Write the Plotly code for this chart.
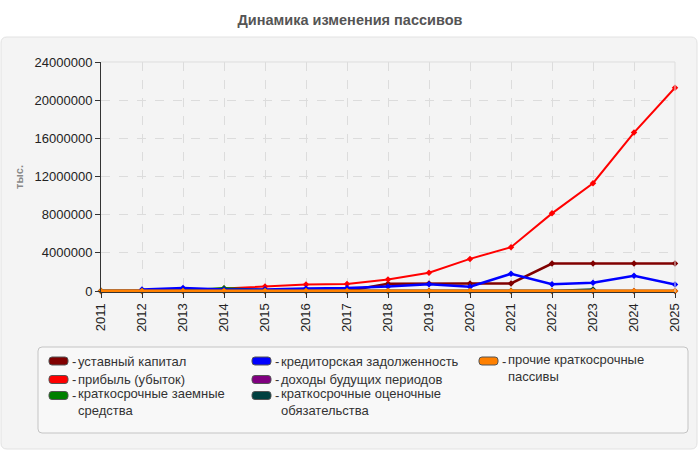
import plotly.graph_objects as go

# years on the x axis
years = list(range(2011, 2026))

# values, тыс. руб.
ustavny_kapital = [10000, 10000, 10000, 10000, 10000, 10000, 10000, 760000, 800000, 800000,
                   800000, 2880000, 2880000, 2880000, 2880000]
pribyl = [0, 30000, 80000, 260000, 480000, 690000, 730000, 1210000, 1920000, 3370000,
          4600000, 8140000, 11300000, 16600000, 21300000]
zaemnye = [0, 0, 20000, 300000, 100000, 0, 0, 0, 0, 0, 0, 0, 0, 0, 0]
kreditorskaya = [None, 170000, 330000, 170000, 170000, 260000, 310000, 480000, 700000, 450000,
                 1810000, 710000, 880000, 1610000, 690000]
dohody = [0, 0, 0, 0, 0, 0, 0, 0, 0, 0, 0, 0, 0, 0, 0]
otsenochnye = [0, 0, 0, 0, 0, 0, 0, 0, 0, 0, 0, 0, 150000, None, None]
prochie = [0, 0, 0, 0, 0, 0, 0, 0, 0, 0, 0, 0, 0, 0, 0]

names = ["уставный капитал", "прибыль (убыток)", "краткосрочные заемные<br>средства",
         "кредиторская задолженность", "доходы будущих периодов",
         "краткосрочные оценочные<br>обязательства", "прочие краткосрочные<br>пассивы"]
values = [ustavny_kapital, pribyl, zaemnye, kreditorskaya, dohody, otsenochnye, prochie]
colors = ["#800000", "#ff0000", "#008000", "#0000ff", "#800080", "#004040", "#ff8000"]
widths = [2.5, 2, 2.5, 2.5, 2.5, 2.5, 3]

W, H = 700, 450
L, R, T, B = 101, 25, 62, 158
pw, ph = W - L - R, H - T - B


def px(x):
    return (x - L) / pw


def py(y):
    return (H - B - y) / ph


def round_rect(x0, y0, x1, y1, r):
    # rounded rectangle path in paper coords, input in pixels
    p = [
        f"M {px(x0 + r)},{py(y0)}", f"L {px(x1 - r)},{py(y0)}", f"Q {px(x1)},{py(y0)} {px(x1)},{py(y0 + r)}",
        f"L {px(x1)},{py(y1 - r)}", f"Q {px(x1)},{py(y1)} {px(x1 - r)},{py(y1)}",
        f"L {px(x0 + r)},{py(y1)}", f"Q {px(x0)},{py(y1)} {px(x0)},{py(y1 - r)}",
        f"L {px(x0)},{py(y0 + r)}", f"Q {px(x0)},{py(y0)} {px(x0 + r)},{py(y0)} Z",
    ]
    return " ".join(p)


fig = go.Figure()
for name, vals, color, w in zip(names, values, colors, widths):
    fig.add_trace(go.Scatter(x=years, y=vals, mode="lines+markers", name=name.replace("<br>", " "),
                             line=dict(color=color, width=w),
                             marker=dict(symbol="diamond", size=5, color=color),
                             cliponaxis=False, showlegend=False))

shapes = [
    dict(type="path", xref="paper", yref="paper", path=round_rect(1, 37, 697, 449, 6),
         fillcolor="#f4f4f4", line=dict(color="#e2e2e2", width=1), layer="below"),
    dict(type="path", xref="paper", yref="paper", path=round_rect(38, 347, 688, 433, 4),
         fillcolor="#f8f8f8", line=dict(color="#c4c4c4", width=1), layer="below"),
    dict(type="line", xref="paper", yref="paper", x0=0, x1=1, y0=1, y1=1,
         line=dict(color="#dddddd", width=1)),
    dict(type="line", xref="paper", yref="paper", x0=1, x1=1, y0=0, y1=1,
         line=dict(color="#dddddd", width=1)),
]
annotations = []

# legend drawn as swatches + text, three columns
col_x = [49, 252, 479]
row_y = [361, 379.5, 395.5]
fs = 13
line_h = 1.3 * fs
slots = [(0, 0), (0, 1), (0, 2), (1, 0), (1, 1), (1, 2), (2, 0)]
lfont = dict(family="Arial, Liberation Sans", size=fs, color="#333")
for name, color, (c, r) in zip(names, colors, slots):
    x0, yc = col_x[c], row_y[r]
    shapes.append(dict(type="path", xref="paper", yref="paper",
                       path=round_rect(x0, yc - 4, x0 + 19, yc + 4, 3), fillcolor=color,
                       line=dict(color="#555555", width=1)))
    annotations.append(dict(xref="paper", yref="paper", x=px(x0 + 21), y=py(yc), text="-",
                            showarrow=False, xanchor="left", yanchor="middle", font=lfont))
    n_lines = name.count("<br>") + 1
    ty = yc if n_lines == 1 else yc - 1.8 + line_h / 2
    annotations.append(dict(xref="paper", yref="paper", x=px(x0 + 28), y=py(ty),
                            text=name, showarrow=False, xanchor="left", yanchor="middle",
                            align="left", font=lfont, borderpad=0))

fig.update_layout(
    width=W, height=H, autosize=False,
    margin=dict(l=L, r=R, t=T, b=B),
    paper_bgcolor="white", plot_bgcolor="#fafaf3",
    font=dict(family="Arial, Liberation Sans", size=12, color="#222"),
    title=dict(text="<b>Динамика изменения пассивов</b>", x=0.5, xref="container", xanchor="center",
               y=1 - 20 / H, yanchor="middle", font=dict(size=14.5, color="#555")),
    showlegend=False,
    xaxis=dict(range=[2011, 2025], tickvals=years, tickangle=-90, ticks="outside", ticklen=5,
               tickcolor="#333", showline=True, linecolor="#333", showgrid=True,
               gridcolor="#dcdcdc", griddash="dash", zeroline=False,
               tickfont=dict(size=13, color="#222")),
    yaxis=dict(range=[-100000, 24000000], tickvals=[0, 4000000, 8000000, 12000000, 16000000,
                                                     20000000, 24000000],
               tickformat="d", ticks="outside", ticklen=5,
               tickcolor="#333", showline=True, linecolor="#333", showgrid=True,
               gridcolor="#dcdcdc", griddash="dash", zeroline=False,
               tickfont=dict(size=13, color="#222"),
               title=dict(text="<b>тыс.</b>", font=dict(size=11, color="#888"), standoff=8)),
    shapes=shapes,
    annotations=annotations,
)

fig.write_html("out.html", config={"displayModeBar": False},
               post_script="document.body.style.margin='0';")
